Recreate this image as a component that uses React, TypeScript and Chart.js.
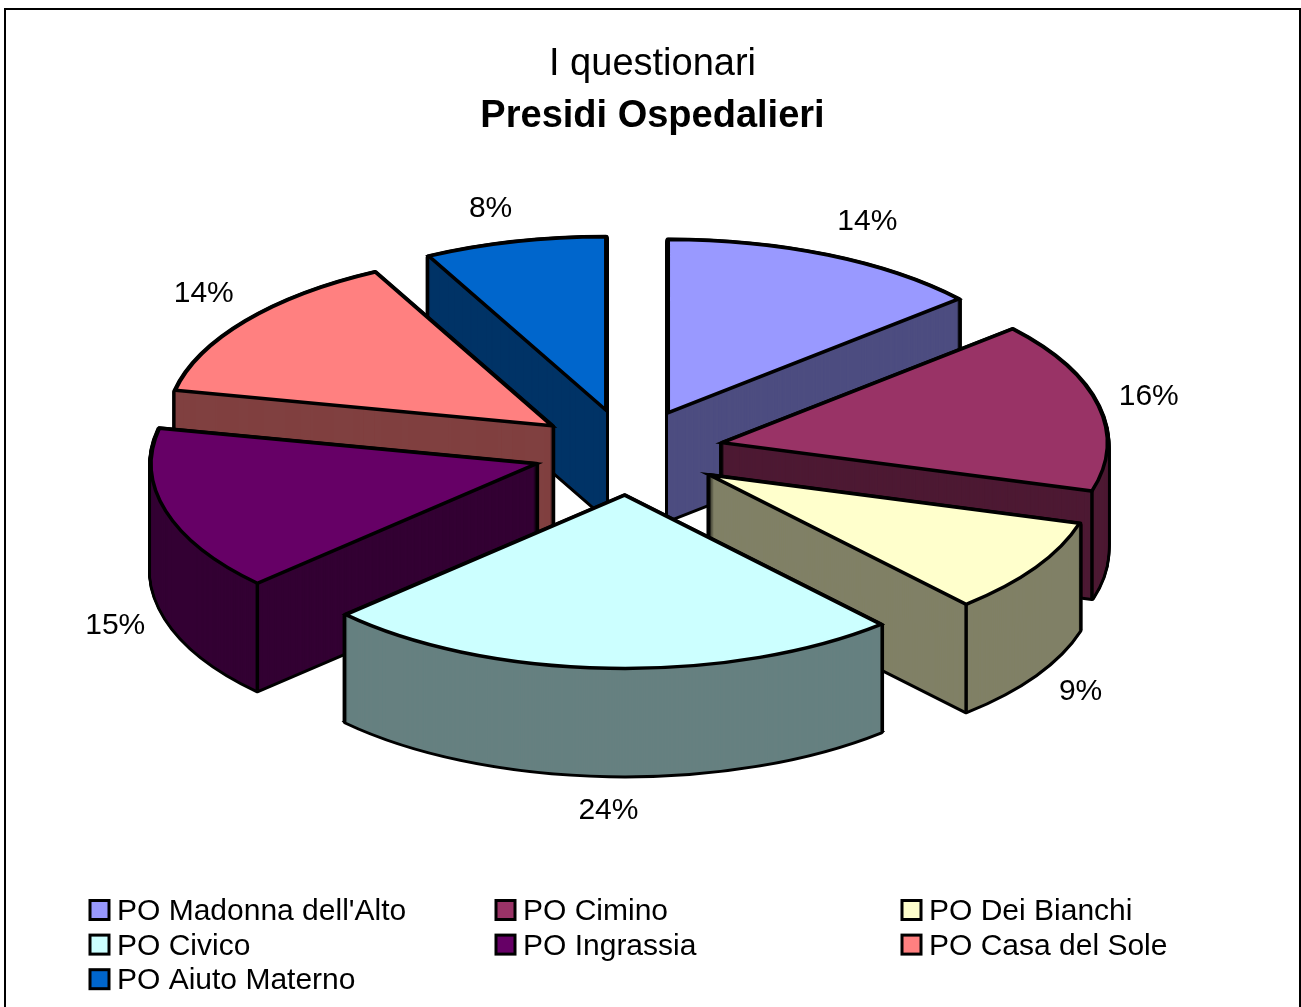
import React, { useEffect, useRef } from "react";
import { Chart, registerables } from "chart.js";

Chart.register(...registerables);

// Questionnaires collected per hospital, in percent.
const categories = [
  "PO Madonna dell'Alto",
  "PO Cimino",
  "PO Dei Bianchi",
  "PO Civico",
  "PO Ingrassia",
  "PO Casa del Sole",
  "PO Aiuto Materno",
];
const shares = [13.6, 15.9, 8.9, 24.49, 15.41, 14.1, 7.6];

const topColours = ["#9999FF", "#993366", "#FFFFCC", "#CCFFFF", "#660066", "#FF8080", "#0066CC"];
const sideColours = ["#4D4D80", "#4D1933", "#808066", "#668080", "#330033", "#804040", "#003366"];

const FONT = "'Liberation Sans', Arial, sans-serif";

// Tilted-pie geometry, in canvas pixels.
const CANVAS_W = 1293;
const CANVAS_H = 997;
const SHIFT_X = -24;
const CENTER_Y = 442;
const SQUASH = 0.45;
const DEPTH = 107;
const EXPLODE = 96;
const RADIUS = 385;
const OUTLINE = 3.5;
const SWEEP_OUTLINE = 6;

// Percentage labels sit on a wider ellipse, then get a small per-slice nudge.
const LABEL_RADIUS = 545;
const labelNudges = [
  [13, -9],
  [-12, -5],
  [-9, 0],
  [2, 5],
  [11, -2],
  [9, -12],
  [-9, -7],
];

// Legend grid.
const LEGEND_X = 84;
const LEGEND_COL = 406;
const LEGEND_Y = 900;
const LEGEND_ROW = 34.6;
const LEGEND_COLS = 3;

const total = shares.reduce((a, b) => a + b, 0);

function midAngle(arc: any) {
  return (arc.startAngle + arc.endAngle) / 2;
}

function apexOf(arc: any) {
  const mid = midAngle(arc);
  return {
    x: arc.x + SHIFT_X + Math.cos(mid) * EXPLODE,
    y: CENTER_Y + Math.sin(mid) * EXPLODE * SQUASH,
  };
}

function traceSlice(ctx: CanvasRenderingContext2D, arc: any, drop: number) {
  const a = apexOf(arc);
  ctx.beginPath();
  ctx.moveTo(a.x, a.y + drop);
  ctx.ellipse(a.x, a.y + drop, arc.outerRadius, arc.outerRadius * SQUASH, 0, arc.startAngle, arc.endAngle);
  ctx.closePath();
}

// Paints the arc element through a squashed transform, moved out along its mid angle.
function fillSlice(ctx: CanvasRenderingContext2D, arc: any, colour: string, drop: number) {
  const saved = arc.options;
  const mid = midAngle(arc);
  arc.options = { ...saved, backgroundColor: colour, borderWidth: 0 };
  ctx.save();
  ctx.translate(SHIFT_X, CENTER_Y + drop);
  ctx.scale(1, SQUASH);
  ctx.translate(Math.cos(mid) * EXPLODE, Math.sin(mid) * EXPLODE - arc.y);
  arc.draw(ctx);
  ctx.restore();
  arc.options = saved;
}

// A crease is needed only where the rim wall and a radial wall are both in view;
// anywhere else the corner already lies on the swept silhouette.
function isInnerCrease(angle: number, isStart: boolean) {
  const normal = isStart ? angle - Math.PI / 2 : angle + Math.PI / 2;
  return Math.sin(angle) > 0 && Math.sin(normal) > 0;
}

const tiltedPie = {
  id: "tiltedPie",
  beforeDatasetsDraw(chart: any) {
    const ctx: CanvasRenderingContext2D = chart.ctx;
    const arcs: any[] = chart.getDatasetMeta(0).data.map((arc: any, index: number) => ({ arc, index }));
    const order = [...arcs].sort((p, q) => Math.sin(midAngle(p.arc)) - Math.sin(midAngle(q.arc)));

    ctx.save();
    ctx.miterLimit = 10;
    ctx.strokeStyle = "#000000";

    for (const { arc, index } of order) {
      // Side walls: sweep a round-joined outline downward, so corner tips do not smear,
      // and leave mitred tips on the bottom edge only.
      ctx.lineJoin = "round";
      ctx.lineWidth = SWEEP_OUTLINE;
      for (let d = DEPTH; d >= 1; d--) {
        traceSlice(ctx, arc, d);
        ctx.stroke();
      }
      ctx.lineJoin = "miter";
      ctx.lineWidth = OUTLINE;
      traceSlice(ctx, arc, DEPTH);
      ctx.stroke();
      for (let d = DEPTH; d >= 1; d--) fillSlice(ctx, arc, sideColours[index], d);

      // Vertical creases on the walls.
      const a = apexOf(arc);
      [
        [arc.startAngle, true],
        [arc.endAngle, false],
      ].forEach(([angle, isStart]: any) => {
        if (!isInnerCrease(angle, isStart)) return;
        const x = a.x + Math.cos(angle) * arc.outerRadius;
        const y = a.y + Math.sin(angle) * arc.outerRadius * SQUASH;
        ctx.beginPath();
        ctx.moveTo(x, y);
        ctx.lineTo(x, y + DEPTH);
        ctx.stroke();
      });

      // Top face.
      fillSlice(ctx, arc, topColours[index], 0);
      traceSlice(ctx, arc, 0);
      ctx.stroke();
    }
    ctx.restore();
    return false;
  },
  afterDraw(chart: any) {
    const ctx: CanvasRenderingContext2D = chart.ctx;
    ctx.save();

    // Percentage labels.
    ctx.font = `30px ${FONT}`;
    ctx.fillStyle = "#000000";
    ctx.textAlign = "center";
    ctx.textBaseline = "middle";
    chart.getDatasetMeta(0).data.forEach((arc: any, i: number) => {
      const mid = midAngle(arc);
      const x = arc.x + SHIFT_X + Math.cos(mid) * LABEL_RADIUS + labelNudges[i][0];
      const below = Math.sin(mid) > 0 ? DEPTH : 0;
      const y = CENTER_Y + 2 + Math.sin(mid) * LABEL_RADIUS * SQUASH + below + labelNudges[i][1];
      ctx.fillText(`${Math.round((shares[i] / total) * 100)}%`, x, y);
    });

    // Legend in a fixed three-column grid.
    ctx.textAlign = "left";
    categories.forEach((name, i) => {
      const x = LEGEND_X + (i % LEGEND_COLS) * LEGEND_COL;
      const y = LEGEND_Y + Math.floor(i / LEGEND_COLS) * LEGEND_ROW;
      ctx.fillStyle = topColours[i];
      ctx.fillRect(x, y - 9.5, 19, 19);
      ctx.strokeStyle = "#000000";
      ctx.lineWidth = 3;
      ctx.strokeRect(x, y - 9.5, 19, 19);
      ctx.fillStyle = "#000000";
      ctx.fillText(name, x + 27, y + 2);
    });
    ctx.restore();
  },
};

export default function App() {
  const canvasRef = useRef<HTMLCanvasElement | null>(null);

  useEffect(() => {
    const chart = new Chart(canvasRef.current as HTMLCanvasElement, {
      type: "pie",
      data: {
        labels: categories,
        datasets: [
          {
            data: shares,
            backgroundColor: topColours,
            borderWidth: 0,
            radius: RADIUS,
          } as any,
        ],
      },
      options: {
        responsive: false,
        animation: false,
        events: [],
        rotation: 0,
        plugins: {
          legend: { display: false },
          tooltip: { enabled: false },
          title: {
            display: true,
            text: "I questionari",
            color: "#000000",
            font: { family: FONT, size: 38, weight: "normal", lineHeight: 1.2 },
            padding: { top: 32, bottom: 6 },
          },
          subtitle: {
            display: true,
            text: "Presidi Ospedalieri",
            color: "#000000",
            font: { family: FONT, size: 38, weight: "bold", lineHeight: 1.2 },
            padding: { top: 0, bottom: 0 },
          },
        },
      },
      plugins: [tiltedPie],
    } as any);
    return () => chart.destroy();
  }, []);

  return (
    <div
      style={{
        position: "absolute",
        left: 4,
        top: 8,
        width: 1293,
        height: 999,
        borderTop: "2px solid #000",
        borderLeft: "2px solid #000",
        borderRight: "2px solid #000",
        background: "#fff",
        overflow: "hidden",
      }}
    >
      <canvas ref={canvasRef} width={CANVAS_W} height={CANVAS_H} style={{ display: "block" }} />
    </div>
  );
}
